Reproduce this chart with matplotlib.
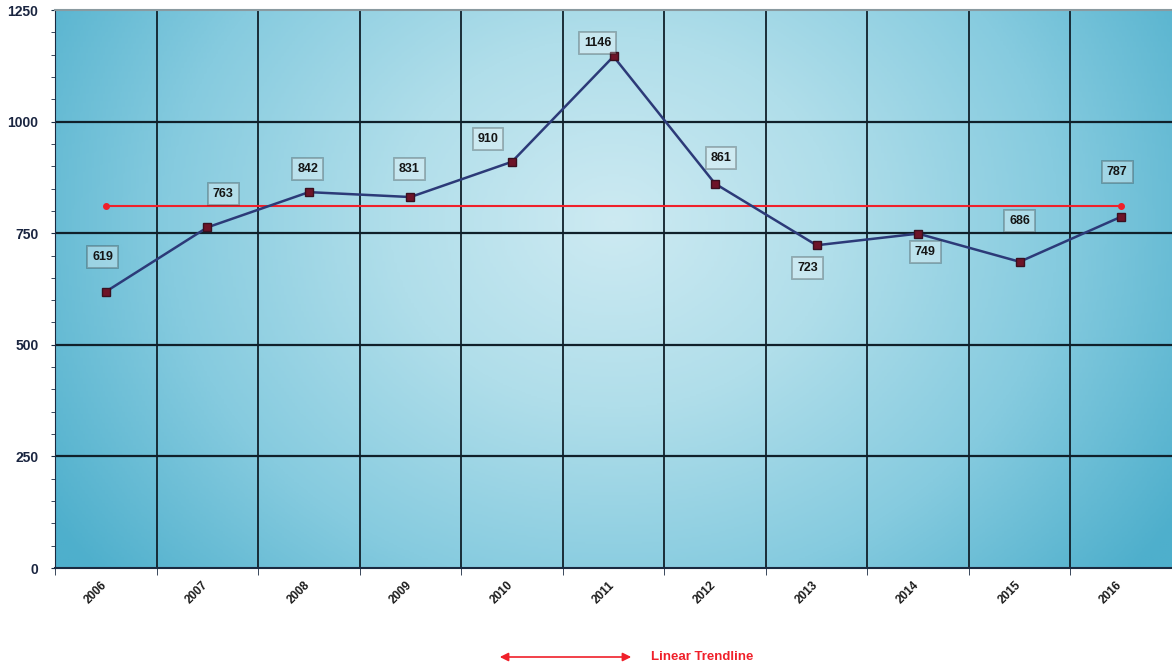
import numpy as np
import matplotlib
matplotlib.use("Agg")
import matplotlib.pyplot as plt
from matplotlib.colors import LinearSegmentedColormap
from matplotlib.transforms import ScaledTranslation

years = ["2006", "2007", "2008", "2009", "2010", "2011", "2012", "2013", "2014", "2015", "2016"]
values = [619, 763, 842, 831, 910, 1146, 861, 723, 749, 686, 787]
trend_values = [811, 811]
y_ticks = [0, 250, 500, 750, 1000, 1250]
legend_label = "Linear Trendline"

# label offsets in pixels (style only)
label_offsets = [(-3, 35), (16, 33), (-1, 23), (-1, 28), (-24, 23), (-16, 13),
                 (6, 26), (-9, -23), (7, -18), (0, 41), (-4, 45)]

plt.rcParams['font.family'] = ['Liberation Sans', 'DejaVu Sans']

fig = plt.figure(figsize=(11.72, 6.69), dpi=100)
ax = fig.add_axes([55/1172, (669-568)/669, 1 - 55/1172, 558/669])

n = len(years)
x = np.arange(n)
ax.set_xlim(-0.5, n - 0.5)
ax.set_ylim(0, 1250)

# background gradient
gx, gy = np.meshgrid(np.linspace(0, 1, 400), np.linspace(0, 1, 300))
r = np.sqrt(((gx - 0.5) / 0.6) ** 2 + ((gy - 0.62) / 1.0) ** 2)
r = np.clip(r, 0, 1)
cmap = LinearSegmentedColormap.from_list("bg", ["#cdeaf2", "#b0deea", "#86cbdf", "#4eafcc"])
ax.imshow(r, cmap=cmap, extent=[-0.5, n - 0.5, 0, 1250], origin="lower",
          aspect="auto", zorder=0, vmin=0, vmax=1)

# grid
for b in np.arange(0.5, n - 0.5, 1):
    ax.axvline(b, color="#10202a", lw=1.3, zorder=1)
for yv in y_ticks[1:-1]:
    ax.axhline(yv, color="#10202a", lw=1.6, zorder=1)

# trendline
ax.plot([x[0], x[-1]], trend_values, color="#f0202a", lw=1.5, zorder=2,
        marker="o", markersize=4)

# data line
ax.plot(x, values, color="#2c3a78", lw=1.8, zorder=3)
ax.plot(x, values, linestyle="none", marker="s", markersize=6,
        markerfacecolor="#6e1428", markeredgecolor="#3a1020", zorder=4)

for xi, v, (dx, dy) in zip(x, values, label_offsets):
    ax.annotate(str(v), (xi, v), xytext=(dx, dy), textcoords="offset pixels",
                ha="center", va="center", fontsize=9, fontweight="bold",
                color="#151515", zorder=5,
                bbox=dict(boxstyle="square,pad=0.4", facecolor="#ffffff",
                          alpha=0.3, edgecolor="#202020", lw=1.3))

# axes & ticks
ax.set_yticks(y_ticks)
ax.set_yticklabels([str(t) for t in y_ticks])
ax.set_yticks(np.arange(0, 1251, 50), minor=True)
ax.tick_params(axis="y", which="both", direction="out", length=3, color="#1a2a40",
               labelsize=10, labelcolor="#1a2540", pad=9)
for lbl in ax.get_yticklabels():
    lbl.set_fontweight("bold")

ax.set_xticks(x)
ax.set_xticklabels(years, rotation=45, fontsize=8.5, fontweight="bold",
                   color="#1a1a1a", ha="right", rotation_mode="anchor")
ax.set_xticks(np.arange(-0.5, n, 1), minor=True)
ax.tick_params(axis="x", which="major", length=0, pad=8)
ax.tick_params(axis="x", which="minor", length=5, color="#1a2a40")
shift = ScaledTranslation(-5 / 100, 0, fig.dpi_scale_trans)
for lbl in ax.get_xticklabels():
    lbl.set_transform(lbl.get_transform() + shift)

ax.spines["right"].set_visible(False)
ax.spines["top"].set_color("#8a9aa0")
ax.spines["top"].set_linewidth(1.5)
ax.spines["left"].set_color("#1a2a40")
ax.spines["bottom"].set_color("#1a2a40")
ax.spines["bottom"].set_linewidth(1.5)

# legend
ly = 1 - 657 / 669
fig.add_artist(matplotlib.patches.FancyArrowPatch(
    (497 / 1172, ly), (634 / 1172, ly), transform=fig.transFigure,
    arrowstyle="<|-|>,head_length=5,head_width=2.5", color="#f0202a", lw=1.2))
fig.text(651 / 1172, ly, legend_label, color="#f0202a", fontsize=9.5,
         fontweight="bold", va="center", ha="left")

fig.savefig("out.png", dpi=100)
